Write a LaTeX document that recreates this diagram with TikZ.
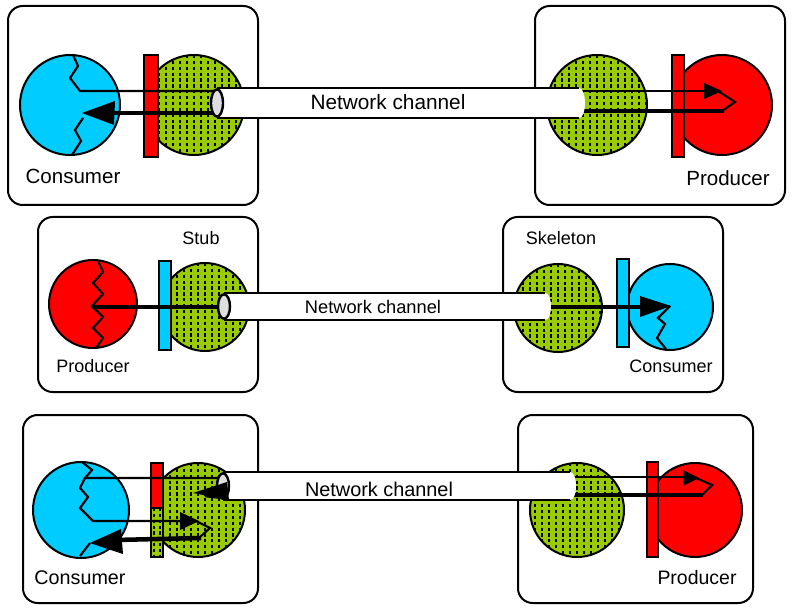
\documentclass[tikz,border=0pt]{standalone}
\usepackage{fontspec}
\setmainfont{Liberation Sans}
\definecolor{cyanc}{RGB}{0,204,255}
\definecolor{redc}{RGB}{255,0,0}
\definecolor{greenc}{RGB}{153,204,0}
\definecolor{grayc}{RGB}{222,222,222}
\tikzset{
  box/.style={draw, line width=1.5pt, rounded corners=11pt, fill=white},
  outl/.style={draw=black, line width=1.5pt},
  thinl/.style={line width=1.6pt, line join=miter},
  thickl/.style={line width=3.4pt},
  dotline/.style={line width=1.4pt, dash pattern=on 2.4pt off 2pt, black},
  head/.style={fill=black},
  lbl/.style={inner sep=0pt}
}
\newcommand\gcirc[3]{%
  \fill[greenc] (#1,#2) circle [radius=#3*0.75pt];
  \begin{scope}
    \clip (#1,#2) circle [radius=#3*0.75pt];
    \foreach \k in {-9,...,9}{\draw[dotline] ({#1+\k*7},{#2-#3}) -- ({#1+\k*7},{#2+#3});}
  \end{scope}
  \draw[outl] (#1,#2) circle [radius=#3*0.75pt];}
\newcommand\tube[4]{%
  \fill[white] (#1,#3) -- (#2,#3) .. controls ({#2+8},#3) and ({#2+8},#4) .. (#2,#4) -- (#1,#4) -- cycle;
  \draw[thinl] (#1,#3) -- (#2,#3);
  \draw[thinl] (#1,#4) -- (#2,#4);
  \filldraw[fill=grayc, line width=1.8pt] (#1,{(#3+#4)/2}) ellipse [x radius=4.5pt, y radius={(#4-#3)*0.34pt}];}
\begin{document}
\begin{tikzpicture}[x=0.75pt,y=-0.75pt]
\useasboundingbox (0,0) rectangle (793,613);
\fill[white] (0,0) rectangle (793,613);
% boxes
\draw[box] (8,6) rectangle (258,205);
\draw[box] (535,6) rectangle (785,205);
\draw[box] (38,217) rectangle (258,392);
\draw[box] (503,217) rectangle (723,392);
\draw[box] (23,415) rectangle (258,603);
\draw[box] (518,415) rectangle (753,603);

% ===== Row 1 left
\filldraw[fill=cyanc, outl] (70,105) circle [radius=37.5pt];
\gcirc{194}{105}{50}
\filldraw[fill=redc, outl] (144,55) rectangle (158,157);
\draw[thinl] (73,55) -- (78,66) -- (70,78) -- (80,91) -- (217,91);
\draw[thinl] (83,118) -- (75,130) -- (81,141) -- (72,155);
\draw[thickl] (217,113) -- (105,113);
\fill[head] (82,113) -- (115,101) -- (114,125) -- cycle;
% ===== Row 1 right
\gcirc{597}{105}{50}
\filldraw[fill=redc, outl] (722,105) circle [radius=37.5pt];
\filldraw[fill=redc, outl] (672,55) rectangle (684,157);
\draw[thinl] (580,91) -- (707,91);
\fill[head] (722,91) -- (704,83) -- (704,99) -- cycle;
\draw[thinl] (718,91) -- (735,102) -- (722,111);
\draw[thickl] (580,111) -- (724,111);
% tube 1
\tube{217}{579}{88}{118}
\node[lbl, font=\fontsize{15.6}{18}\selectfont] (nc1) at (388,102) {Network channel};
\node[lbl, font=\fontsize{15.4}{18}\selectfont] (cons1) at (73,176) {Consumer};
\node[lbl, font=\fontsize{15.4}{18}\selectfont] (prod1) at (728,178) {Producer};

% ===== Row 2 left
\filldraw[fill=redc, outl] (93,304) circle [radius=33pt];
\gcirc{205}{307}{44}
\filldraw[fill=cyanc, outl] (159,261) rectangle (171,350);
\draw[thinl] (98,261) -- (103,272) -- (93,283) -- (103,294) -- (92,306) -- (103,317) -- (93,328) -- (103,338) -- (96,348);
\draw[thickl] (91,307) -- (224,307);
% ===== Row 2 right
\gcirc{558}{308}{44}
\filldraw[fill=cyanc, outl] (670,307) circle [radius=32.25pt];
\filldraw[fill=cyanc, outl] (617,259) rectangle (629,347);
\draw[thickl] (545,307) -- (645,307);
\fill[head] (671,306) -- (640,296) -- (640,317) -- cycle;
\draw[thinl] (670,306) -- (658,318) -- (665,324) -- (657,338) -- (666,349);
% tube 2
\tube{224}{545}{293}{320}
\node[lbl, font=\fontsize{13.7}{16}\selectfont] (nc2) at (373,307) {Network channel};
\node[lbl, font=\fontsize{13.5}{16}\selectfont] (stub) at (201,238) {Stub};
\node[lbl, font=\fontsize{13.5}{16}\selectfont] (skel) at (561,238) {Skeleton};
\node[lbl, font=\fontsize{13.5}{16}\selectfont] (prod2) at (93,366) {Producer};
\node[lbl, font=\fontsize{13.5}{16}\selectfont] (cons2) at (671,366) {Consumer};

% ===== Row 3 left
\filldraw[fill=cyanc, outl] (81,510) circle [radius=36pt];
\gcirc{198}{510}{47}
\filldraw[fill=redc, outl] (151,463) rectangle (163,508);
\fill[greenc] (151,508) rectangle (163,557);
\begin{scope}
  \clip (151,508) rectangle (163,557);
  \foreach \xx in {154,160}{\draw[dotline] (\xx,508) -- (\xx,557);}
\end{scope}
\draw[outl] (151,508) rectangle (163,557);
\draw[thinl] (82,462) -- (92,470) -- (85,478) -- (223,478);
\draw[thinl] (85,478) -- (80,488) -- (88,497) -- (80,508) -- (93,521) -- (184,521);
\fill[head] (199,521) -- (180,512) -- (180,530) -- cycle;
\draw[thinl] (196,521) -- (210,528) -- (200,537);
\draw[thickl] (201,538) -- (115,540);
\fill[head] (90,543) -- (121,529) -- (123,554) -- cycle;
\draw[thinl] (90,543) -- (80,556);
% ===== Row 3 right
\gcirc{577}{510}{47}
\filldraw[fill=redc, outl] (695,510) circle [radius=35.25pt];
\filldraw[fill=redc, outl] (647,462) rectangle (658,557);
\draw[thinl] (570,477) -- (685,477);
\fill[head] (699,478) -- (683,470) -- (683,486) -- cycle;
\draw[thinl] (696,478) -- (712,485) -- (702,495);
\draw[thickl] (570,495) -- (703,495);
% tube 3
\tube{223}{570}{472}{500}
\draw[thickl] (223,497) -- (205,495);
\fill[head] (193,493) -- (227,482) -- (229,500) -- cycle;
\node[lbl, font=\fontsize{14.9}{17}\selectfont] (nc3) at (379,489) {Network channel};
\node[lbl, font=\fontsize{14.8}{17}\selectfont] (cons3) at (80,578) {Consumer};
\node[lbl, font=\fontsize{14.6}{17}\selectfont] (prod3) at (697,578) {Producer};
\end{tikzpicture}
\end{document}
